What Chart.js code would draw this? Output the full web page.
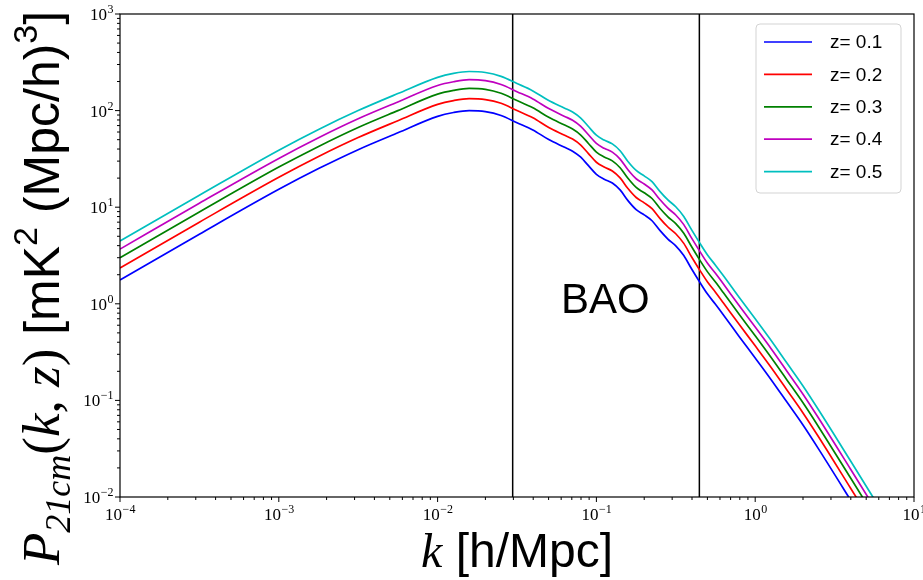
<!DOCTYPE html>
<html>
<head>
<meta charset="utf-8">
<script src="https://cdn.jsdelivr.net/npm/chart.js@4.4.1/dist/chart.umd.min.js"></script>
<style>
  html, body { margin: 0; padding: 0; background: #fff; }
  #wrap { width: 923px; height: 580px; position: relative; }
</style>
</head>
<body>
<div id="wrap"><canvas id="powerChart"></canvas></div>
<script>
var kValues = [0.0001, 0.000316, 0.001, 0.00178, 0.00316, 0.00562, 0.01, 0.0126, 0.0158, 0.02,
  0.0251, 0.0316, 0.0398, 0.0501, 0.0631, 0.0708, 0.0794, 0.0891, 0.1, 0.112,
  0.126, 0.141, 0.158, 0.178, 0.2, 0.224, 0.251, 0.282, 0.316,
  0.355, 0.398, 0.447, 0.501, 0.562, 0.631, 0.794, 1.0, 1.26, 1.58, 2.0, 2.51, 3.98, 6.31];

// P_21cm(k, z) in mK^2 (Mpc/h)^3, one list per redshift
var pZ01 = [1.76, 5.25, 15.3, 25.1, 39.4, 58.9, 87.1, 95.5, 100, 97.7,
  89.1, 75.0, 63.1, 50.1, 41.7, 38.0, 33.1, 26.9, 21.9, 19.5,
  17.8, 15.1, 11.7, 9.44, 8.32, 7.24, 5.75, 4.68, 3.98,
  3.16, 2.29, 1.68, 1.26, 0.989, 0.767, 0.457, 0.275, 0.164, 0.0966, 0.0556, 0.0313, 0.00933, 0.00275];
var pZ02 = [2.35, 7.00, 20.4, 33.5, 52.6, 78.6, 116, 127, 133, 130,
  119, 100, 84.2, 66.8, 55.6, 50.7, 44.2, 35.9, 29.2, 26.0,
  23.7, 20.1, 15.6, 12.6, 11.1, 9.66, 7.67, 6.24, 5.31,
  4.22, 3.05, 2.24, 1.68, 1.32, 1.02, 0.610, 0.367, 0.219, 0.129, 0.0742, 0.0418, 0.0124, 0.00367];
var pZ03 = [2.99, 8.91, 26.0, 42.6, 66.9, 100, 148, 162, 170, 166,
  151, 127, 107, 85.1, 70.8, 64.5, 56.2, 45.7, 37.2, 33.1,
  30.2, 25.6, 19.9, 16.0, 14.1, 12.3, 9.76, 7.95, 6.76,
  5.37, 3.89, 2.85, 2.14, 1.68, 1.30, 0.776, 0.467, 0.278, 0.164, 0.0944, 0.0531, 0.0158, 0.00467];
var pZ04 = [3.68, 11.0, 32.0, 52.4, 82.3, 123, 182, 199, 209, 204,
  186, 157, 132, 105, 87.1, 79.4, 69.1, 56.2, 45.7, 40.7,
  37.2, 31.5, 24.4, 19.7, 17.4, 15.1, 12.0, 9.78, 8.31,
  6.60, 4.78, 3.51, 2.63, 2.07, 1.60, 0.955, 0.574, 0.343, 0.202, 0.116, 0.0654, 0.0195, 0.00574];
var pZ05 = [4.47, 13.3, 38.9, 63.8, 100, 150, 221, 243, 254, 248,
  226, 191, 160, 127, 106, 96.6, 84.1, 68.4, 55.6, 49.5,
  45.2, 38.4, 29.7, 24.0, 21.1, 18.4, 14.6, 11.9, 10.1,
  8.03, 5.82, 4.27, 3.20, 2.51, 1.95, 1.16, 0.699, 0.417, 0.245, 0.141, 0.0795, 0.0237, 0.00699];

var seriesLabels = ['z= 0.1', 'z= 0.2', 'z= 0.3', 'z= 0.4', 'z= 0.5'];
var seriesValues = [pZ01, pZ02, pZ03, pZ04, pZ05];
var seriesColors = ['#0000ff', '#ff0000', '#008000', '#bf00bf', '#00bfbf'];

// the two vertical lines that bound the BAO range
var baoEdges = [0.0297, 0.445];
var xTickExponents = [-4, -3, -2, -1, 0, 1];
var yTickExponents = [-2, -1, 0, 1, 2, 3];

var datasets = seriesValues.map(function(vals, i) {
  return {
    label: seriesLabels[i],
    data: kValues.map(function(k, j) { return { x: k, y: vals[j] }; }),
    borderColor: seriesColors[i],
    borderWidth: 1.7,
    pointRadius: 0,
    cubicInterpolationMode: 'monotone',
    fill: false
  };
});
baoEdges.forEach(function(k) {
  datasets.push({
    label: '',
    data: [{ x: k, y: 0.01 }, { x: k, y: 1000 }],
    borderColor: '#000',
    borderWidth: 1.5,
    pointRadius: 0,
    fill: false
  });
});

function drawPower(ctx, x, y, exp, align) {
  var base = '10';
  var sup = String(exp).replace('-', '\u2212');
  ctx.font = '17px "Liberation Serif"';
  var wb = ctx.measureText(base).width;
  ctx.font = '12px "Liberation Serif"';
  var ws = ctx.measureText(sup).width;
  var start = align === 'center' ? x - (wb + ws) / 2 : x - wb - ws;
  ctx.textAlign = 'left';
  ctx.textBaseline = 'alphabetic';
  ctx.font = '17px "Liberation Serif"';
  ctx.fillText(base, start, y);
  ctx.font = '12px "Liberation Serif"';
  ctx.fillText(sup, start + wb + 0.5, y - 7);
}

// draw a list of [text, font, shift] pieces along the current x axis
function drawPieces(ctx, pieces) {
  var pos = 0;
  pieces.forEach(function(p) {
    ctx.font = p[1];
    ctx.fillText(p[0], pos, p[2]);
    pos += ctx.measureText(p[0]).width;
  });
  return pos;
}
function piecesWidth(ctx, pieces) {
  var w = 0;
  pieces.forEach(function(p) { ctx.font = p[1]; w += ctx.measureText(p[0]).width; });
  return w;
}

var decorations = {
  id: 'decorations',
  afterDraw: function(chart) {
    var ctx = chart.ctx, a = chart.chartArea;
    var xs = chart.scales.x, ys = chart.scales.y;
    ctx.save();
    ctx.fillStyle = '#000';
    ctx.strokeStyle = '#000';

    // frame
    ctx.lineWidth = 1.2;
    ctx.strokeRect(a.left, a.top, a.right - a.left, a.bottom - a.top);

    // ticks
    ctx.lineWidth = 1;
    ctx.beginPath();
    xTickExponents.forEach(function(e) {
      var px = xs.getPixelForValue(Math.pow(10, e));
      ctx.moveTo(px, a.bottom); ctx.lineTo(px, a.bottom + 5);
      if (e < 1) {
        for (var m = 2; m < 10; m++) {
          var mx = xs.getPixelForValue(m * Math.pow(10, e));
          ctx.moveTo(mx, a.bottom); ctx.lineTo(mx, a.bottom + 3);
        }
      }
    });
    yTickExponents.forEach(function(e) {
      var py = ys.getPixelForValue(Math.pow(10, e));
      ctx.moveTo(a.left, py); ctx.lineTo(a.left - 5, py);
      if (e < 3) {
        for (var m = 2; m < 10; m++) {
          var my = ys.getPixelForValue(m * Math.pow(10, e));
          ctx.moveTo(a.left, my); ctx.lineTo(a.left - 3, my);
        }
      }
    });
    ctx.stroke();

    // tick labels
    xTickExponents.forEach(function(e) {
      drawPower(ctx, xs.getPixelForValue(Math.pow(10, e)), a.bottom + 23, e, 'center');
    });
    yTickExponents.forEach(function(e) {
      drawPower(ctx, a.left - 7, ys.getPixelForValue(Math.pow(10, e)) + 6, e, 'right');
    });

    // BAO label
    ctx.font = '42px "Liberation Sans"';
    ctx.textAlign = 'center';
    ctx.textBaseline = 'alphabetic';
    ctx.fillText('BAO', xs.getPixelForValue(0.114), ys.getPixelForValue(0.8));

    // x axis title
    var xPieces = [
      ['k', 'italic 48px "Liberation Serif"', 0],
      [' [h/Mpc]', '48px "Liberation Sans"', 0]
    ];
    ctx.textAlign = 'left';
    var xw = piecesWidth(ctx, xPieces);
    ctx.save();
    ctx.translate((a.left + a.right) / 2 - xw / 2, 567);
    drawPieces(ctx, xPieces);
    ctx.restore();

    // y axis title
    var yPieces = [
      ['P', 'italic 53px "Liberation Serif"', 0],
      ['21cm', 'italic 36px "Liberation Serif"', 11],
      ['(', '53px "Liberation Serif"', 0],
      ['k', 'italic 53px "Liberation Serif"', 0],
      [', ', '53px "Liberation Serif"', 0],
      ['z', 'italic 53px "Liberation Serif"', 0],
      [')', '53px "Liberation Serif"', 0],
      [' [mK', '50px "Liberation Sans"', 0],
      ['2', '34px "Liberation Sans"', -22],
      [' (Mpc/h)', '50px "Liberation Sans"', 0],
      ['3', '34px "Liberation Sans"', -22],
      [']', '50px "Liberation Sans"', 0]
    ];
    ctx.save();
    ctx.translate(59, 565);
    ctx.rotate(-Math.PI / 2);
    drawPieces(ctx, yPieces);
    ctx.restore();

    // legend
    var lx = a.right - 158, ly = a.top + 10, lw = 145, lh = 169;
    ctx.beginPath();
    ctx.roundRect(lx, ly, lw, lh, 4);
    ctx.fillStyle = 'rgba(255,255,255,0.8)';
    ctx.fill();
    ctx.strokeStyle = '#d3d3d3';
    ctx.lineWidth = 1;
    ctx.stroke();
    ctx.font = '19px "Liberation Sans"';
    ctx.textBaseline = 'middle';
    ctx.textAlign = 'left';
    seriesLabels.forEach(function(lab, i) {
      var ry = ly + 18 + i * 32.4;
      ctx.strokeStyle = seriesColors[i];
      ctx.lineWidth = 1.7;
      ctx.beginPath();
      ctx.moveTo(lx + 8, ry); ctx.lineTo(lx + 56, ry);
      ctx.stroke();
      ctx.fillStyle = '#000';
      ctx.fillText(lab, lx + 74, ry + 1);
    });
    ctx.restore();
  }
};

var ctx = document.getElementById('powerChart').getContext('2d');
new Chart(ctx, {
  type: 'line',
  data: { datasets: datasets },
  options: {
    responsive: true,
    maintainAspectRatio: false,
    animation: false,
    layout: { padding: { left: 120, top: 14, right: 9, bottom: 83 } },
    plugins: { legend: { display: false }, tooltip: { enabled: false } },
    scales: {
      x: { type: 'logarithmic', min: 1e-4, max: 10, display: false },
      y: { type: 'logarithmic', min: 1e-2, max: 1e3, display: false }
    }
  },
  plugins: [decorations]
});
</script>
</body>
</html>
